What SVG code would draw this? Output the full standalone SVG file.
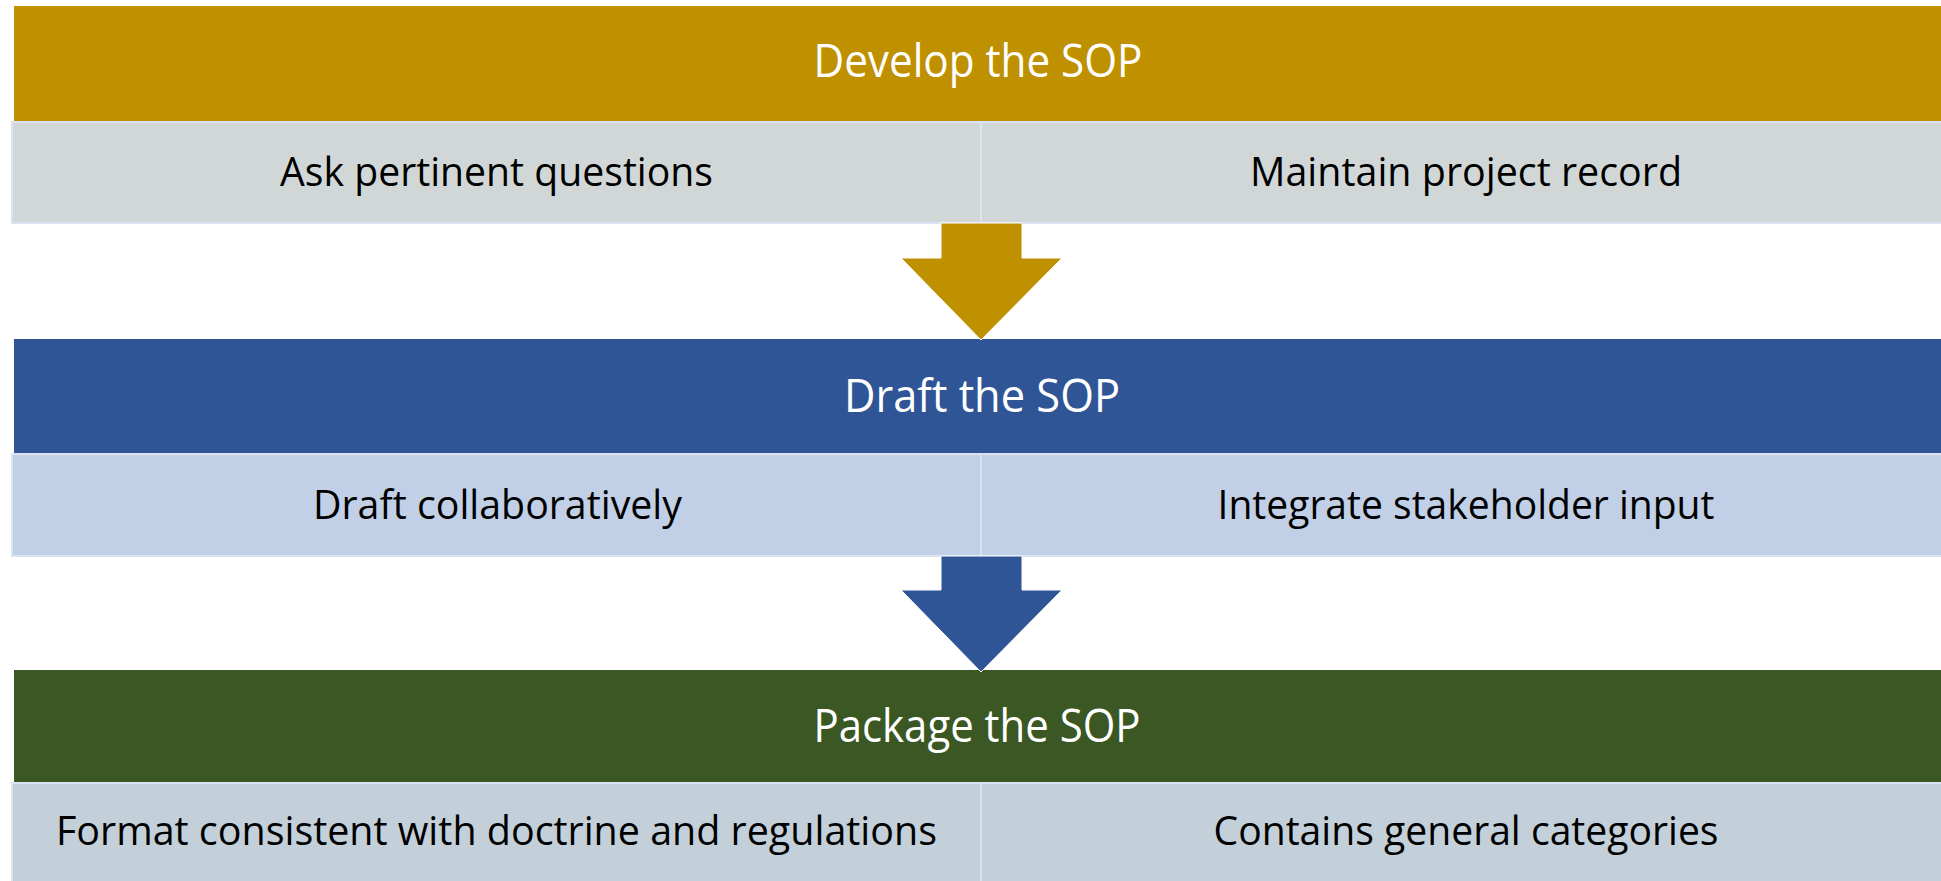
<svg xmlns="http://www.w3.org/2000/svg" width="1941" height="881" viewBox="0 0 1941 881">
  <style>
    .title { font-family: "Open Sans", "Noto Sans", sans-serif; font-size: 45px; fill: #ffffff; text-anchor: middle; }
    .item { font-family: "Open Sans", "Noto Sans", sans-serif; font-size: 41px; fill: #000000; text-anchor: middle; }
    .cell { stroke: #dae3f3; stroke-width: 2; }
    .divider { stroke: #dae3f3; stroke-width: 2; }
    .arrow { stroke: #ffffff; stroke-width: 1; }
  </style>
  <rect width="1941" height="881" fill="#ffffff"/>

  <!-- Stage 1: Develop -->
  <g id="develop">
    <rect x="14" y="6" width="1930" height="115" fill="#bf9000"/>
    <rect class="cell" x="12" y="122" width="1932" height="101" fill="#d1d7d7"/>
    <line class="divider" x1="981" y1="122" x2="981" y2="223"/>
    <text class="title" x="978" y="77" textLength="329" lengthAdjust="spacingAndGlyphs">Develop the SOP</text>
    <text class="item" x="496.5" y="186" textLength="433" lengthAdjust="spacingAndGlyphs">Ask pertinent questions</text>
    <text class="item" x="1466" y="186" textLength="432" lengthAdjust="spacingAndGlyphs">Maintain project record</text>
  </g>

  <!-- Stage 2: Draft -->
  <g id="draft">
    <rect x="14" y="339" width="1930" height="114" fill="#2f5597"/>
    <rect class="cell" x="12" y="454" width="1932" height="102" fill="#c1d0e6"/>
    <line class="divider" x1="981" y1="454" x2="981" y2="556"/>
    <text class="title" x="982" y="412" textLength="276" lengthAdjust="spacingAndGlyphs">Draft the SOP</text>
    <text class="item" x="497.5" y="519" textLength="369" lengthAdjust="spacingAndGlyphs">Draft collaboratively</text>
    <text class="item" x="1466" y="519" textLength="497" lengthAdjust="spacingAndGlyphs">Integrate stakeholder input</text>
  </g>

  <!-- Stage 3: Package -->
  <g id="package">
    <rect x="14" y="670" width="1930" height="112" fill="#3a5724"/>
    <rect class="cell" x="12" y="783" width="1932" height="100" fill="#c3d0da"/>
    <line class="divider" x1="981" y1="783" x2="981" y2="881"/>
    <text class="title" x="977" y="742" textLength="327" lengthAdjust="spacingAndGlyphs">Package the SOP</text>
    <text class="item" x="496.5" y="845" textLength="881" lengthAdjust="spacingAndGlyphs">Format consistent with doctrine and regulations</text>
    <text class="item" x="1466" y="845" textLength="505" lengthAdjust="spacingAndGlyphs">Contains general categories</text>
  </g>

  <!-- Flow arrows between stages -->
  <g id="connectors">
    <polygon class="arrow" fill="#bf9000" points="941,223 1022,223 1022,258 1062,258 981,340 901,258 941,258"/>
    <polygon class="arrow" fill="#2f5597" points="941,556 1022,556 1022,590 1062,590 981,672 901,590 941,590"/>
  </g>
</svg>
